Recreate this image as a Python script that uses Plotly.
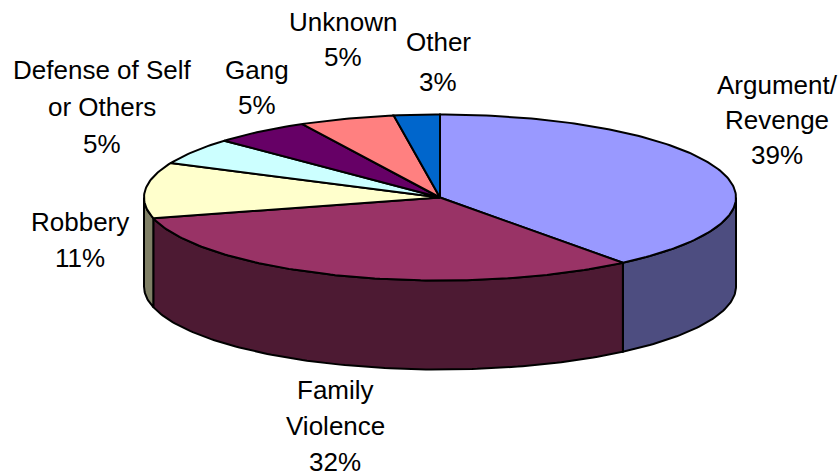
import numpy as np
import plotly.graph_objects as go

categories = ["Argument/<br>Revenge", "Family<br>Violence", "Robbery",
              "Defense of Self<br>or Others", "Gang", "Unknown", "Other"]
values = [39.4, 31.6, 10.8, 5.2, 5.3, 5.2, 2.5]
percent_labels = ["39%", "32%", "11%", "5%", "5%", "5%", "3%"]
top_colors = ["#9999FF", "#993366", "#FFFFCC", "#CCFFFF", "#660066", "#FF8080", "#0066CC"]
side_colors = ["#4D4D80", "#4D1A33", "#808066", "#668080", "#330033", "#804040", "#003366"]
label_x = [777, 335, 80, 102, 257, 343, 438]
label_y = [85, 390, 222, 70, 70, 22, 42]
label_step = [35, 36, 36, 37, 35, 35, 40]

CX, CY, RX, RY, DEPTH = 440, 197.5, 296, 83, 89
W, H = 838, 473


def arc(a0, a1, dy=0.0):
    n = max(2, int(abs(a1 - a0)) + 2)
    t = np.radians(np.linspace(a0, a1, n))
    return CX + RX * np.sin(t), CY - RY * np.cos(t) + dy


fig = go.Figure()
edges = np.concatenate([[0], np.cumsum(values)]) * 360 / sum(values)


def poly(x, y, color):
    fig.add_trace(go.Scatter(x=list(x), y=list(y), mode="lines", fill="toself",
                             fillcolor=color, line=dict(color="black", width=2),
                             hoverinfo="skip", showlegend=False))


# side walls: only the front half of the rim (90deg to 270deg) is visible
for a0, a1, col in zip(edges[:-1], edges[1:], side_colors):
    lo, hi = max(a0, 90), min(a1, 270)
    if hi <= lo:
        continue
    xt, yt = arc(lo, hi)
    xb, yb = arc(hi, lo, DEPTH)
    poly(np.r_[xt, xb, xt[0]], np.r_[yt, yb, yt[0]], col)

# top faces
for a0, a1, col in zip(edges[:-1], edges[1:], top_colors):
    xt, yt = arc(a0, a1)
    poly(np.r_[CX, xt, CX], np.r_[CY, yt, CY], col)

# labels
for cat, pct, lx, ly, step in zip(categories, percent_labels, label_x, label_y, label_step):
    for i, line in enumerate(cat.split("<br>") + [pct]):
        fig.add_annotation(x=lx, y=ly + i * step, text=line, showarrow=False,
                           xanchor="center", yanchor="middle",
                           font=dict(family="Liberation Sans", size=26, color="black"))

fig.update_xaxes(range=[0, W], visible=False, fixedrange=True)
fig.update_yaxes(range=[H, 0], visible=False, fixedrange=True)
fig.update_layout(width=W, height=H, margin=dict(l=0, r=0, t=0, b=0),
                  paper_bgcolor="white", plot_bgcolor="white", showlegend=False)
fig.write_html("out.html", config={"displayModeBar": False},
               post_script="document.body.style.margin='0';document.body.style.overflow='hidden';")
